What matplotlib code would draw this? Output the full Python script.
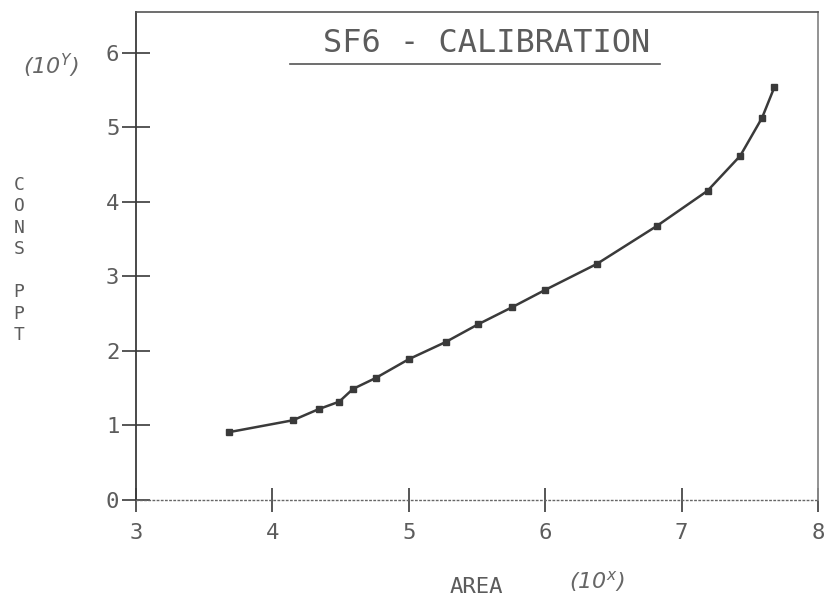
import matplotlib
matplotlib.use('Agg')
import matplotlib.pyplot as plt
from matplotlib.lines import Line2D

# valores (log10 da area, log10 da concentracao)
area_log = [3.68, 4.15, 4.34, 4.49, 4.59, 4.76, 5.00, 5.27, 5.51, 5.76,
            6.00, 6.38, 6.82, 7.19, 7.43, 7.59, 7.68]
cons_log = [0.91, 1.07, 1.22, 1.32, 1.49, 1.64, 1.89, 2.12, 2.36, 2.59,
            2.82, 3.17, 3.68, 4.15, 4.62, 5.13, 5.54]
x_ticks = [3, 4, 5, 6, 7, 8]
y_ticks = [0, 1, 2, 3, 4, 5, 6]

W, H = 824, 604
fonte = 'DejaVu Sans Mono'
cor_texto = '#5c5c5c'
cor_linha = '#3a3a3a'


def fig_pos(x, y):
    # pixels -> fracao da figura
    return x / W, 1 - y / H


fig = plt.figure(figsize=(W / 100, H / 100), dpi=100)
ax = fig.add_axes([136 / W, (H - 500) / H, 682 / W, 488 / H])

ax.plot(area_log, cons_log, color=cor_linha, lw=1.8, marker='s',
        markersize=5, markerfacecolor=cor_linha, markeredgecolor=cor_linha)

ax.set_xlim(3, 8)
ax.set_ylim(0, 6.55)
ax.set_xticks(x_ticks)
ax.set_yticks(y_ticks)
ax.set_xticklabels([str(v) for v in x_ticks], fontfamily=fonte,
                   fontsize=16, color=cor_texto)
ax.set_yticklabels([str(v) for v in y_ticks], fontfamily=fonte,
                   fontsize=16, color=cor_texto)
ax.tick_params(axis='x', direction='inout', length=17, width=1.2,
               color=cor_linha, pad=8)
ax.tick_params(axis='y', direction='inout', length=20, width=1.2,
               color=cor_linha, pad=2)

# moldura estilo plotter
ax.spines['left'].set_color(cor_linha)
ax.spines['left'].set_linewidth(1.3)
ax.spines['top'].set_color('#555555')
ax.spines['top'].set_linewidth(1.2)
ax.spines['right'].set_color('#8a8a8a')
ax.spines['right'].set_linewidth(1.3)
ax.spines['bottom'].set_color('#666666')
ax.spines['bottom'].set_linewidth(1.0)
ax.spines['bottom'].set_linestyle((0, (1, 2)))

# titulo sublinhado
fig.text(*fig_pos(487, 43), 'SF6 - CALIBRATION', ha='center', va='center',
         fontfamily=fonte, fontsize=23, color=cor_texto)
x0, y0 = fig_pos(290, 64)
x1, _ = fig_pos(660, 64)
fig.add_artist(Line2D([x0, x1], [y0, y0], transform=fig.transFigure,
                      color='#555555', lw=1.2))

# rotulos dos eixos
fig.text(*fig_pos(19, 260), 'C\nO\nN\nS\n \nP\nP\nT', ha='center',
         va='center', fontfamily=fonte, fontsize=13, linespacing=1.25,
         color=cor_texto)
fig.text(*fig_pos(51, 66), '(10$^{Y}$)', ha='center', va='center',
         fontsize=16, style='italic', color='#666666')
fig.text(*fig_pos(476, 587), 'AREA', ha='center', va='center',
         fontfamily=fonte, fontsize=16, color=cor_texto)
fig.text(*fig_pos(597, 582), '(10$^{x}$)', ha='center', va='center',
         fontsize=16, style='italic', color='#666666')

fig.savefig('out.png', dpi=100)
